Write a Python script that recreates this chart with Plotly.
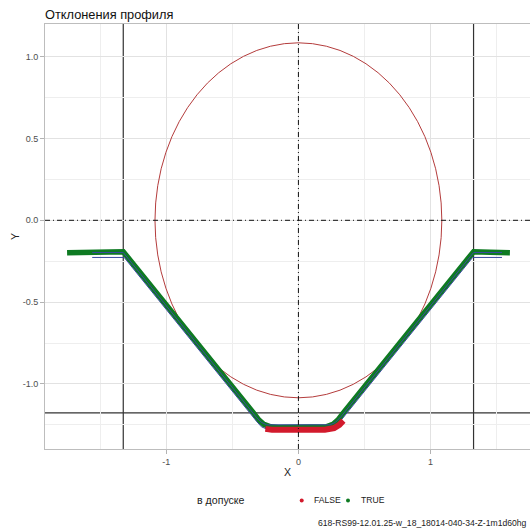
import plotly.graph_objects as go

# ---- data ----
# measured profile (in tolerance = TRUE)
true_x = [-1.75, -1.55, -1.325, -0.34, -0.30, -0.26, -0.21, -0.15, 0.15, 0.21, 0.26, 0.30, 0.34, 1.325, 1.45, 1.60]
true_y = [-0.199, -0.196, -0.192, -1.177, -1.220, -1.248, -1.262, -1.267, -1.267, -1.262, -1.248, -1.220, -1.177, -0.192, -0.196, -0.199]
# out of tolerance (FALSE)
false_x = [-0.25, -0.20, 0.20, 0.27, 0.31, 0.34]
false_y = [-1.275, -1.280, -1.280, -1.270, -1.250, -1.225]
# nominal / tolerance thin lines
upper_x = [-1.56, -1.325, -0.32, -0.28, -0.24, 0.24, 0.28, 0.32, 1.325, 1.54]
upper_y = [-0.197, -0.197, -1.202, -1.235, -1.250, -1.250, -1.235, -1.202, -0.197, -0.197]
lower_x = [-1.56, -1.318, -0.313, -0.28, -0.24, 0.24, 0.28, 0.313, 1.318, 1.54]
lower_y = [-0.227, -0.227, -1.232, -1.262, -1.276, -1.276, -1.262, -1.232, -0.227, -0.227]
# reference lines
circle_center = (0.0, 0.0)
circle_radius = 1.085
vlines_x = [-1.325, 1.325]
hline_y = -1.177

x_tickvals = [-1, 0, 1]
x_ticktext = ["-1", "0", "1"]
y_tickvals = [1.0, 0.5, 0.0, -0.5, -1.0]
y_ticktext = ["1.0", "0.5", "0.0", "-0.5", "-1.0"]
x_minor = [-1.5, -0.5, 0.5, 1.5]
y_minor = [0.75, 0.25, -0.25, -0.75, -1.25]

GREEN = "#0e7a22"
RED = "#d21a2c"
BLUE = "#3a4aa0"
FONT = "Liberation Sans, Arial, sans-serif"

fig = go.Figure()
fig.add_trace(go.Scatter(x=true_x, y=true_y, mode="lines",
                         line=dict(color=GREEN, width=5.5), showlegend=False, hoverinfo="skip"))
fig.add_trace(go.Scatter(x=lower_x, y=lower_y, mode="lines",
                         line=dict(color=BLUE, width=1), showlegend=False, hoverinfo="skip"))
fig.add_trace(go.Scatter(x=false_x, y=false_y, mode="lines",
                         line=dict(color=RED, width=6), showlegend=False, hoverinfo="skip"))
fig.add_trace(go.Scatter(x=upper_x, y=upper_y, mode="lines",
                         line=dict(color=BLUE, width=1), showlegend=False, hoverinfo="skip"))

# circle
cx, cy = circle_center
fig.add_shape(type="circle", xref="x", yref="y",
              x0=cx - circle_radius, x1=cx + circle_radius,
              y0=cy - circle_radius, y1=cy + circle_radius,
              line=dict(color="#b43c3c", width=1), layer="between")
# axes cross (dash-dot)
fig.add_shape(type="line", xref="x", yref="paper", x0=0, x1=0, y0=0, y1=1,
              line=dict(color="#111111", width=1, dash="5px,3px,1px,3px"), layer="above")
fig.add_shape(type="line", xref="paper", yref="y", x0=0, x1=1, y0=0, y1=0,
              line=dict(color="#111111", width=1, dash="5px,3px,1px,3px"), layer="above")
for vx in vlines_x:
    fig.add_shape(type="line", xref="x", yref="paper", x0=vx, x1=vx, y0=0, y1=1,
                  line=dict(color="#333", width=1.2), layer="between")
fig.add_shape(type="line", xref="paper", yref="y", x0=0, x1=1, y0=hline_y, y1=hline_y,
              line=dict(color="#333", width=1.2), layer="between")

# manual legend
L, W, B, H = 45, 485, 449, 425
def px(x):
    return (x - L) / W
def py(y):
    return (B - y) / H

ann = [
    dict(text="в допуске", x=px(195), y=py(500.5), xanchor="left", yanchor="middle",
         font=dict(size=10.6, color="#222", family=FONT)),
    dict(text="FALSE", x=px(311.5), y=py(500.5), xanchor="left", yanchor="middle",
         font=dict(size=8.6, color="#222", family=FONT)),
    dict(text="TRUE", x=px(358.5), y=py(500.5), xanchor="left", yanchor="middle",
         font=dict(size=8.6, color="#222", family=FONT)),
    dict(text="618-RS99-12.01.25-w_18_18014-040-34-Z-1m1d60hg", x=px(315.5), y=py(523),
         xanchor="left", yanchor="middle", font=dict(size=8.6, color="#222", family=FONT)),
]
for a in ann:
    a.update(xref="paper", yref="paper", showarrow=False)
    fig.add_annotation(**a)
for xc, col in [(301.7, RED), (348.0, GREEN)]:
    fig.add_shape(type="circle", xref="paper", yref="paper", xsizemode="pixel", ysizemode="pixel",
                  xanchor=px(xc), yanchor=py(500.5), x0=-2, x1=2, y0=-2, y1=2,
                  fillcolor=col, line=dict(width=0))

fig.update_layout(
    width=530, height=528,
    margin=dict(l=45, r=0, t=24, b=79),
    paper_bgcolor="white", plot_bgcolor="white",
    showlegend=False,
    font=dict(family=FONT, color="#333"),
    title=dict(text="Отклонения профиля", x=0, xref="paper", xanchor="left",
               y=1 - 15 / 528, yref="container", yanchor="middle",
               font=dict(size=12.8, color="#111", family=FONT)),
)
fig.update_xaxes(
    range=[-1.917, 1.752], tickvals=x_tickvals, ticktext=x_ticktext,
    ticks="outside", ticklen=4, tickcolor="#b3b3b3", tickfont=dict(size=9, color="#4d4d4d"),
    showgrid=True, gridcolor="#e2e2e2", gridwidth=1,
    minor=dict(tickvals=x_minor, showgrid=True, gridcolor="#eeeeee", gridwidth=1),
    zeroline=False, showline=True, linecolor="#bdbdbd", linewidth=1, mirror=True,
    title=dict(text="X", font=dict(size=10.6, color="#222"), standoff=2),
)
fig.update_yaxes(
    range=[-1.398, 1.20], tickvals=y_tickvals, ticktext=y_ticktext,
    ticks="outside", ticklen=4, tickcolor="#b3b3b3", tickfont=dict(size=9, color="#4d4d4d"),
    showgrid=True, gridcolor="#e2e2e2", gridwidth=1,
    minor=dict(tickvals=y_minor, showgrid=True, gridcolor="#eeeeee", gridwidth=1),
    zeroline=False, showline=True, linecolor="#bdbdbd", linewidth=1,
    title=dict(text="Y", font=dict(size=10.6, color="#222"), standoff=0),
)

fig.write_html("out.html")
